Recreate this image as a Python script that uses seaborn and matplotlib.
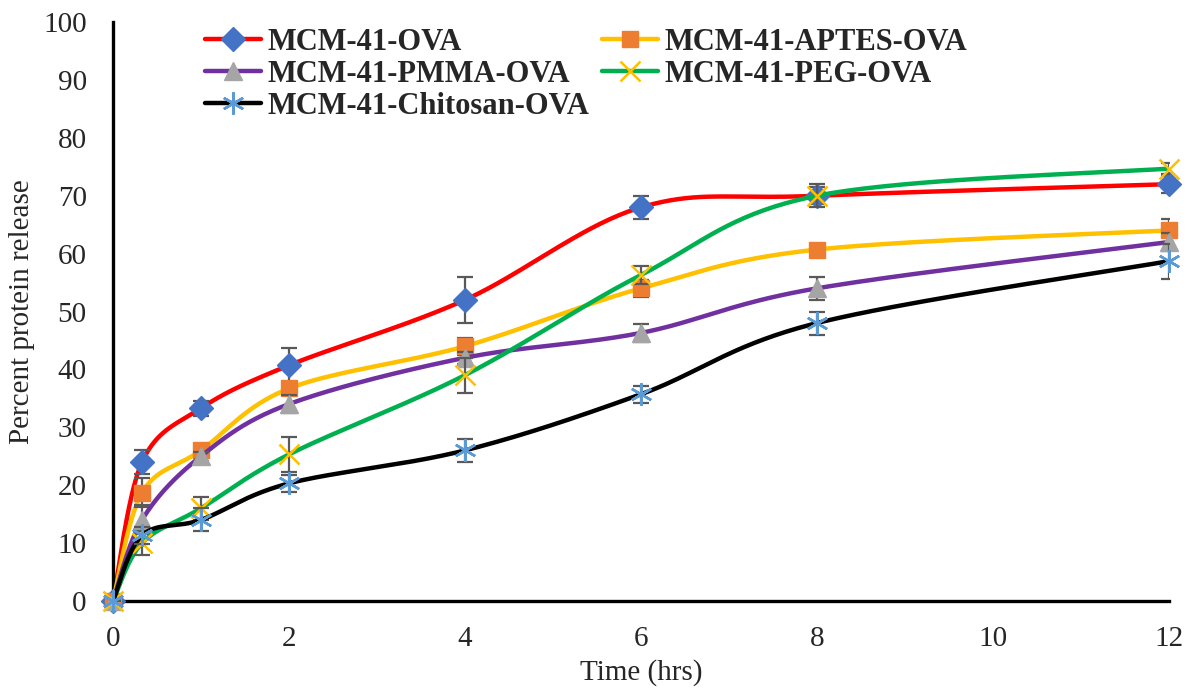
import numpy as np
import matplotlib
matplotlib.use("Agg")
import matplotlib.pyplot as plt
from matplotlib.lines import Line2D
import seaborn as sns

# time points (hrs)
time_hrs = [0, 0.33, 1, 2, 4, 6, 8, 12]

series_names = ["MCM-41-OVA", "MCM-41-APTES-OVA", "MCM-41-PMMA-OVA",
                "MCM-41-PEG-OVA", "MCM-41-Chitosan-OVA"]

ova = [0, 24.0, 33.3, 40.7, 52.0, 68.0, 70.0, 72.0]
ova_err = [0, 2.0, 1.3, 3.0, 4.0, 2.0, 1.5, 1.5]
aptes = [0, 18.7, 26.0, 36.7, 44.0, 54.0, 60.7, 64.0]
aptes_err = [0, 2.5, 1.0, 1.0, 1.5, 1.5, 0.5, 2.0]
pmma = [0, 14.0, 25.0, 34.0, 42.0, 46.3, 54.0, 62.0]
pmma_err = [0, 2.5, 0.8, 1.5, 1.0, 1.5, 2.0, 1.5]
peg = [0, 10.0, 16.0, 25.3, 39.0, 56.3, 70.0, 74.7]
peg_err = [0, 2.0, 2.0, 3.0, 3.0, 1.5, 2.0, 1.0]
chitosan = [0, 11.3, 14.0, 20.3, 26.0, 35.7, 48.0, 58.7]
chitosan_err = [0, 1.5, 2.0, 1.5, 2.0, 1.5, 2.0, 3.0]

values = [ova, aptes, pmma, peg, chitosan]
errors = [ova_err, aptes_err, pmma_err, peg_err, chitosan_err]

line_colors = ["#FF0000", "#FFC000", "#7030A0", "#00B050", "#000000"]
marker_colors = ["#4472C4", "#ED7D31", "#A5A5A5", "#FFC000", "#5B9BD5"]
markers = ["D", "s", "^", "x", (6, 2, 0)]
marker_sizes = [12, 12, 13, 14, 16]


def smooth_curve(x, y, n=40):
    """Excel-like smoothed line: cubic Bezier through the points."""
    p = np.column_stack([x, y]).astype(float)
    pts = np.vstack([p[0], p, p[-1]])
    out = []
    t = np.linspace(0, 1, n)[:, None]
    for i in range(1, len(pts) - 2):
        p0, p1, p2, p3 = pts[i - 1], pts[i], pts[i + 1], pts[i + 2]
        c1 = p1 + (p2 - p0) / 6.0
        c2 = p2 - (p3 - p1) / 6.0
        seg = ((1 - t) ** 3) * p1 + 3 * ((1 - t) ** 2) * t * c1 \
            + 3 * (1 - t) * t ** 2 * c2 + t ** 3 * p2
        out.append(seg if i == 1 else seg[1:])
    out = np.vstack(out)
    return out[:, 0], out[:, 1]


def marker_style(i):
    mk = markers[i]
    if mk == "x" or isinstance(mk, tuple):
        return dict(marker=mk, ms=marker_sizes[i], mec=marker_colors[i], mew=1.8)
    return dict(marker=mk, ms=marker_sizes[i], mfc=marker_colors[i],
                mec=marker_colors[i])


sns.set_style("white")
plt.rcParams["font.family"] = ["Liberation Serif", "DejaVu Serif"]

fig, ax = plt.subplots(figsize=(11.95, 6.93), dpi=100)
fig.subplots_adjust(left=0.0946, right=0.978, top=0.968, bottom=0.133)

for i, name in enumerate(series_names):
    sx, sy = smooth_curve(time_hrs, values[i])
    sns.lineplot(x=sx, y=sy, ax=ax, color=line_colors[i], lw=3.2,
                 sort=False, estimator=None, zorder=2 + i)
    ax.errorbar(time_hrs, values[i], yerr=errors[i], fmt="none",
                ecolor="#595959", elinewidth=1.6, capsize=6, capthick=1.6,
                zorder=2.5 + i)
    ax.plot(time_hrs, values[i], ls="none", zorder=2.7 + i, clip_on=False,
            **marker_style(i))

ax.set_xlim(0, 12)
ax.set_ylim(0, 100)
ax.set_xticks(range(0, 13, 2))
ax.set_yticks(range(0, 101, 10))
for side in ["top", "right"]:
    ax.spines[side].set_visible(False)
for side in ["left", "bottom"]:
    ax.spines[side].set_linewidth(2.4)
    ax.spines[side].set_color("black")
ax.tick_params(axis="both", which="major", direction="out", length=6,
               width=2.4, color="black", labelsize=21)
ax.tick_params(axis="y", pad=13)
ax.tick_params(axis="x", pad=12)
ax.set_xlabel("Time (hrs)", fontsize=21, labelpad=5)
ax.set_ylabel("Percent protein release", fontsize=21, labelpad=6)

handles = [Line2D([], [], color=line_colors[i], lw=3.2, **marker_style(i))
           for i in range(len(series_names))]
# first column OVA, PMMA, Chitosan; second APTES, PEG
order = [0, 2, 4, 1, 3]
ax.legend([handles[k] for k in order], [series_names[k] for k in order],
          ncol=2, loc="upper left", bbox_to_anchor=(0.087, 0.99),
          frameon=False, borderpad=0, borderaxespad=0,
          handlelength=1.85, handletextpad=0.2,
          columnspacing=0.4, labelspacing=0.1,
          prop={"family": ["Liberation Serif"], "weight": "bold", "size": 22})

fig.savefig("out.png", dpi=100)
